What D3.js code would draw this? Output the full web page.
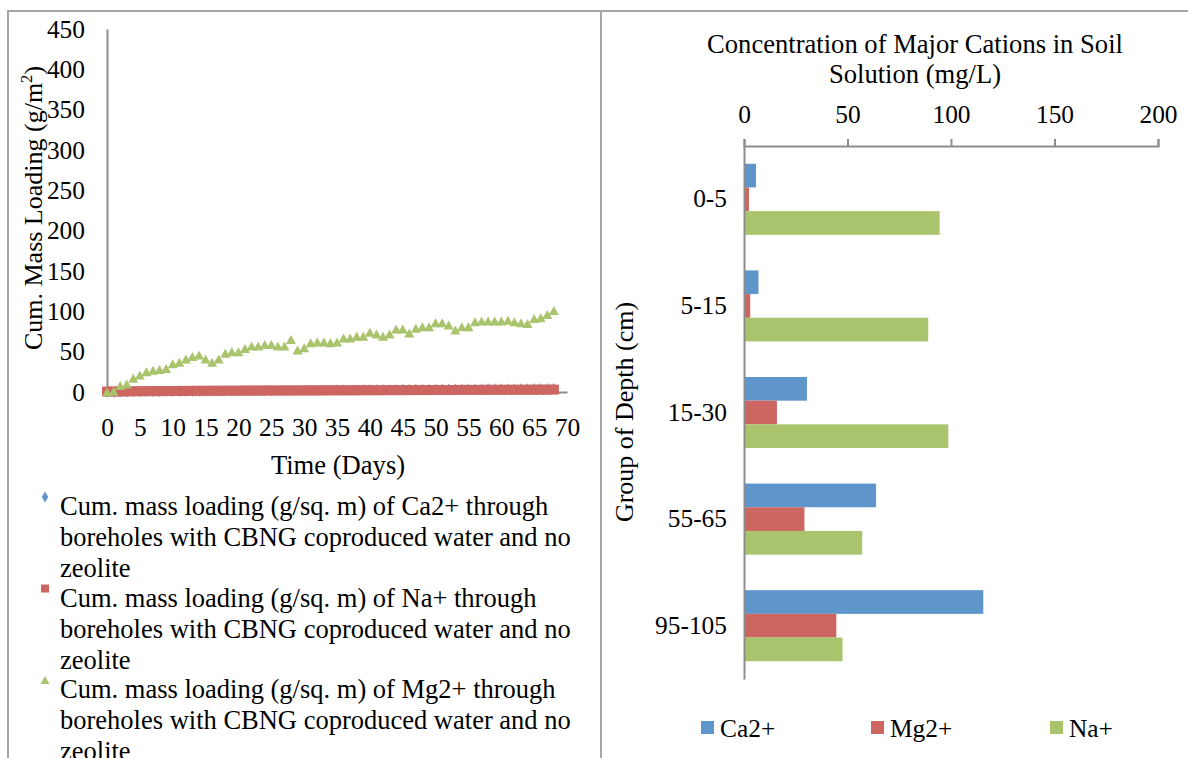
<!DOCTYPE html>
<html>
<head>
<meta charset="utf-8">
<script src="https://cdn.jsdelivr.net/npm/d3@7/dist/d3.min.js"></script>
<style>
  html, body { margin: 0; padding: 0; background: #fff; }
  svg { display: block; }
</style>
</head>
<body>
<svg id="fig" width="1188" height="758"></svg>
<script>
// ---- Left panel: cumulative mass loading through boreholes ----
const days = [0,1,2,3,4,5,6,7,8,9,10,11,12,13,14,15,16,17,18,19,20,21,22,23,24,25,26,27,28,29,30,31,32,33,34,35,36,37,38,39,40,41,42,43,44,45,46,47,48,49,50,51,52,53,54,55,56,57,58,59,60,61,62,63,64,65,66,67,68];
const caLoading = [0,0.2,0.3,0.4,0.5,0.6,0.7,0.8,0.9,1,1,1.1,1.2,1.2,1.3,1.3,1.4,1.4,1.5,1.5,1.6,1.6,1.7,1.7,1.8,1.8,1.9,1.9,2,2,2,2.1,2.1,2.2,2.2,2.3,2.3,2.4,2.4,2.5,2.5,2.6,2.6,2.7,2.7,2.8,2.8,2.9,2.9,3,3,3.1,3.1,3.2,3.2,3.3,3.3,3.4,3.4,3.5,3.5,3.6,3.6,3.7,3.7,3.8,3.8,3.9,4];
const naLoading = [0.5,0.6,0.7,0.8,0.9,1,1,1.1,1.1,1.2,1.2,1.3,1.3,1.4,1.4,1.5,1.5,1.5,1.6,1.6,1.6,1.7,1.7,1.7,1.8,1.8,1.8,1.9,1.9,1.9,2,2,2,2,2.1,2.1,2.1,2.1,2.2,2.2,2.2,2.2,2.3,2.3,2.3,2.3,2.4,2.4,2.4,2.4,2.5,2.5,2.5,2.5,2.6,2.6,2.6,2.6,2.7,2.7,2.7,2.7,2.8,2.8,2.8,2.8,2.9,2.9,3];
const mgLoading = [0,1,8,10,17,21,25,27,28,29,35,37,41,44,46,41,37,41,48,50,50,54,57,57,59,59,57,57,65,52,55,61,62,62,61,62,67,67,69,69,74,72,69,72,78,78,73,79,81,81,86,86,83,77,81,81,87,88,88,88,88,89,87,86,85,91,92,96,101];
const loadTicks = [0,50,100,150,200,250,300,350,400,450];
const dayTicks = [0,5,10,15,20,25,30,35,40,45,50,55,60,65,70];
const loadLegend = [
  ["Cum. mass loading (g/sq. m) of Ca2+ through", "boreholes with CBNG coproduced water and no", "zeolite"],
  ["Cum. mass loading (g/sq. m) of Na+ through", "boreholes with CBNG coproduced water and no", "zeolite"],
  ["Cum. mass loading (g/sq. m) of Mg2+ through", "boreholes with CBNG coproduced water and no", "zeolite"]
];

// ---- Right panel: major cations in soil solution by depth ----
const depthGroups = ["0-5","5-15","15-30","55-65","95-105"];
const cationNames = ["Ca2+","Mg2+","Na+"];
const caConc = [5.8, 7.0, 30.4, 63.8, 115.6];
const mgConc = [2.4, 3.0, 15.9, 29.2, 44.6];
const naConc = [94.5, 89.0, 98.7, 57.1, 47.6];
const concTicks = [0,50,100,150,200];

const BLUE = "#5E95CA", RED = "#CD6560", GREEN = "#A9C46C";
const AXIS = "#8c8c8c", FRAME = "#a6a6a6";
const SERIF = "'Liberation Serif', 'Times New Roman', serif";
const FS = 25.4;

const svg = d3.select("#fig");
const font = (sel, size) => sel.attr("font-family", null).style("font-family", SERIF).style("font-size", size + "px");
const label = (sel, size) => sel.call(font, size).attr("fill", "#000");

// frames around the two panels
svg.append("path")
  .attr("d", "M8,758V11H1188M601,11V758")
  .attr("fill", "none").attr("stroke", FRAME).attr("stroke-width", 2);

// ================= left chart =================
const xL = d3.scaleLinear().domain([0,70]).range([107,567]);
const yL = d3.scaleLinear().domain([0,450]).range([392,29]);

const gx = svg.append("g").attr("transform", `translate(0,${yL(0)})`)
  .call(d3.axisBottom(xL).tickValues(dayTicks).tickSize(0).tickPadding(26).tickFormat(d3.format("d")));
const gy = svg.append("g").attr("transform", `translate(${xL(0)},0)`)
  .call(d3.axisLeft(yL).tickValues(loadTicks).tickSize(0).tickPadding(22).tickFormat(d3.format("d")));
[gx, gy].forEach(g => {
  g.call(font, FS);
  g.select(".domain").attr("stroke", AXIS).attr("stroke-width", 2);
  g.selectAll("text").call(label, FS);
});

// series markers
const diamond = d3.symbol().type(d3.symbolDiamond).size(40);
svg.append("g").selectAll("path").data(days).join("path")
  .attr("d", diamond)
  .attr("transform", (d,i) => `translate(${xL(d)},${yL(caLoading[i])})`)
  .attr("fill", BLUE);

svg.append("g").selectAll("rect").data(days).join("rect")
  .attr("x", d => xL(d) - 5).attr("width", 10)
  .attr("y", (d,i) => yL(naLoading[i]) - 5).attr("height", 10)
  .attr("fill", RED);

const tri = (cx, cy, w, h) => `M${cx},${cy - h/2}L${cx + w/2},${cy + h/2}L${cx - w/2},${cy + h/2}Z`;
svg.append("g").selectAll("path").data(days).join("path")
  .attr("d", (d,i) => tri(xL(d), yL(mgLoading[i]), 10, 9))
  .attr("fill", GREEN);

// axis titles
svg.append("text")
  .attr("transform", "translate(42,208) rotate(-90)")
  .attr("text-anchor", "middle").call(label, 26)
  .call(t => {
    t.append("tspan").text("Cum. Mass Loading (g/m");
    t.append("tspan").style("font-size", "16.6px").attr("dy", -10).text("2");
    t.append("tspan").attr("dy", 10).text(")");
  });
svg.append("text").attr("x", 338).attr("y", 474)
  .attr("text-anchor", "middle").call(label, 26.6).text("Time (Days)");

// legend
const legMarks = [
  (g, x, y) => g.append("path").attr("d", d3.symbol().type(d3.symbolDiamond).size(36)()).attr("transform", `translate(${x},${y})`).attr("fill", BLUE),
  (g, x, y) => g.append("rect").attr("x", x - 4).attr("y", y - 4).attr("width", 8).attr("height", 8).attr("fill", RED),
  (g, x, y) => g.append("path").attr("d", tri(x, y, 9, 8)).attr("fill", GREEN)
];
const legL = svg.append("g");
loadLegend.forEach((lines, k) => {
  const top = 507 + k * 91.5;
  legMarks[k](legL, 45, top - 10);
  lines.forEach((s, j) => {
    legL.append("text").attr("x", 60).attr("y", top + j * 31 + 8)
      .call(label, 26.5).text(s);
  });
});

// ================= right chart =================
const xR = d3.scaleLinear().domain([0,200]).range([744,1158]);
const yR = d3.scaleBand().domain(depthGroups).range([146,679]).paddingInner(1/3).paddingOuter(1/6);
const ySub = d3.scaleBand().domain(cationNames).range([0, yR.bandwidth()]);
const concBy = { "Ca2+": caConc, "Mg2+": mgConc, "Na+": naConc };
const colorBy = { "Ca2+": BLUE, "Mg2+": RED, "Na+": GREEN };

const gt = svg.append("g").attr("transform", `translate(0,146)`)
  .call(d3.axisTop(xR).tickValues(concTicks).tickSize(7).tickPadding(16).tickFormat(d3.format("d")));
gt.call(font, FS);
gt.select(".domain").attr("stroke", AXIS).attr("stroke-width", 2);
gt.selectAll("line").attr("stroke", AXIS).attr("stroke-width", 2);
gt.selectAll("text").call(label, FS);

depthGroups.forEach((grp, gi) => {
  cationNames.forEach(c => {
    svg.append("rect")
      .attr("x", xR(0)).attr("y", yR(grp) + ySub(c))
      .attr("width", xR(concBy[c][gi]) - xR(0)).attr("height", ySub.bandwidth())
      .attr("fill", colorBy[c]);
  });
});

const gc = svg.append("g").attr("transform", `translate(${xR(0)},0)`)
  .call(d3.axisLeft(yR).tickSize(0).tickPadding(17));
gc.call(font, FS);
gc.select(".domain").attr("stroke", AXIS).attr("stroke-width", 2);
gc.selectAll("text").call(label, FS);

// title
svg.append("text").attr("x", 915).attr("y", 53).attr("text-anchor", "middle").call(label, 26.6)
  .text("Concentration of Major Cations in Soil");
svg.append("text").attr("x", 915).attr("y", 83).attr("text-anchor", "middle").call(label, 26.6)
  .text("Solution (mg/L)");
svg.append("text")
  .attr("transform", "translate(633,412) rotate(-90)")
  .attr("text-anchor", "middle").call(label, 26).text("Group of Depth (cm)");

// legend
const legX = [701, 871, 1050];
cationNames.forEach((c, k) => {
  svg.append("rect").attr("x", legX[k]).attr("y", 721).attr("width", 13).attr("height", 13).attr("fill", colorBy[c]);
  svg.append("text").attr("x", legX[k] + 19).attr("y", 737).call(label, FS).text(c);
});
</script>
</body>
</html>
